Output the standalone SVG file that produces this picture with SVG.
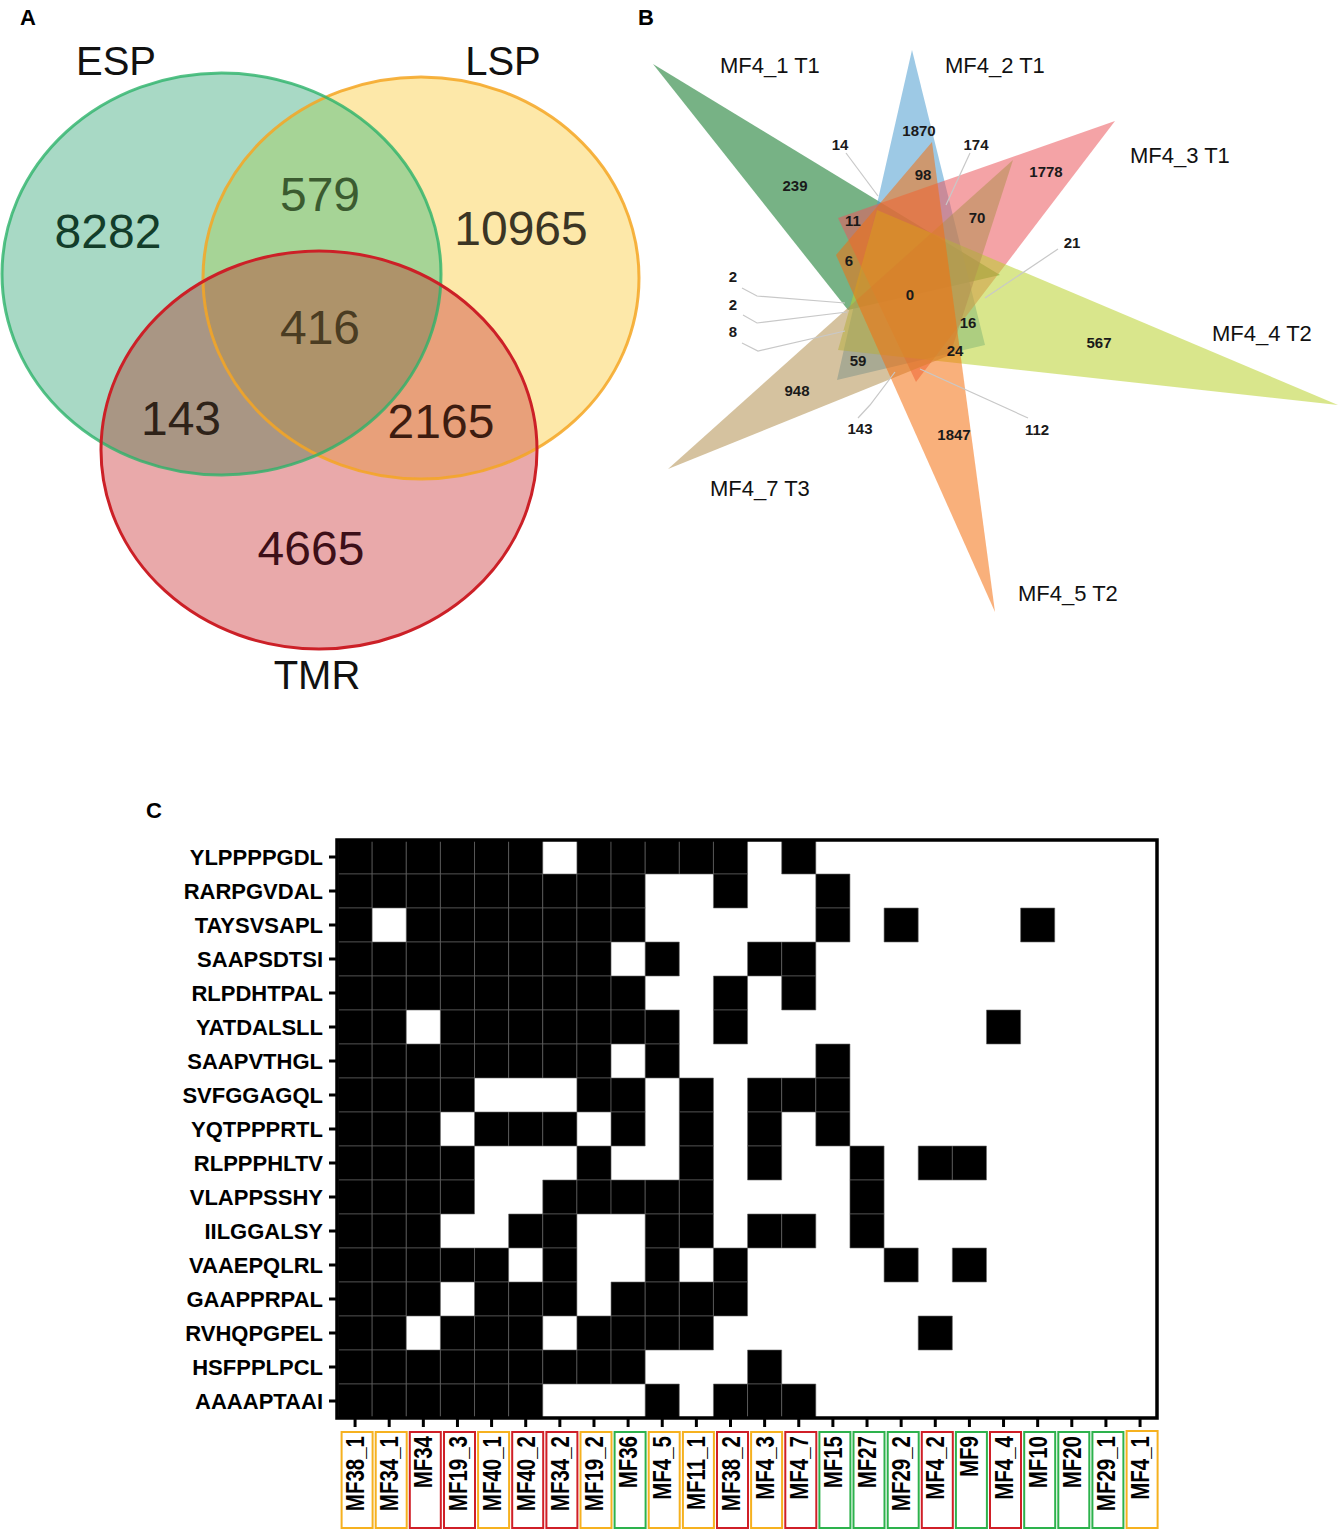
<svg xmlns="http://www.w3.org/2000/svg" width="1340" height="1530" viewBox="0 0 1340 1530">
<style>
.pl{font-family:"Liberation Sans",Arial,sans-serif;font-weight:bold;font-size:22px;fill:#000}
.vn{font-family:"Liberation Sans",Arial,sans-serif;font-size:48px;text-anchor:middle}
.vl{font-family:"Liberation Sans",Arial,sans-serif;font-size:40px;text-anchor:middle;fill:#111}
.sn{font-family:"Liberation Sans",Arial,sans-serif;font-size:15px;font-weight:bold;text-anchor:middle;fill:#1a1a1a}
.sl{font-family:"Liberation Sans",Arial,sans-serif;font-size:22px;fill:#111}
.ld{fill:none;stroke:#c8c8c8;stroke-width:1.2}
.tri{fill-opacity:0.55;stroke:none}
.cell{fill:#000;stroke:#6a6a6a;stroke-width:0.6}
.rl{font-family:"Liberation Sans",Arial,sans-serif;font-weight:bold;font-size:22px;text-anchor:end;fill:#000}
.cl{font-family:"Liberation Sans",Arial,sans-serif;font-weight:bold;font-size:20.5px;text-anchor:end;fill:#000}
.tk{stroke:#000;stroke-width:3}
.bo{fill:#fff;stroke:#f6b11f;stroke-width:2}
.br{fill:#fff;stroke:#d01f27;stroke-width:2}
.bg{fill:#fff;stroke:#2db24c;stroke-width:2}
</style>
<defs>
<clipPath id="clipESP"><ellipse cx="221.5" cy="274" rx="219.5" ry="201"/></clipPath>
<clipPath id="clipLSP"><ellipse cx="421" cy="278" rx="218" ry="201"/></clipPath>
<rect id="c" width="1" height="1" vector-effect="non-scaling-stroke"/>
</defs>
<rect width="1340" height="1530" fill="#fff"/>

<text class="pl" x="20" y="25">A</text>
<text class="pl" x="638" y="25">B</text>
<text class="pl" x="146" y="818">C</text>

<!-- Panel A -->
<g id="panelA">
<g id="fills">
<ellipse cx="221.5" cy="274" rx="219.5" ry="201" fill="#a8d9c5"/>
<ellipse cx="421" cy="278" rx="218" ry="201" fill="#fde8a9"/>
<ellipse cx="319" cy="450" rx="218" ry="199" fill="#e9a9aa"/>
<g clip-path="url(#clipESP)"><ellipse cx="421" cy="278" rx="218" ry="201" fill="#a6d496"/></g>
<g clip-path="url(#clipESP)"><ellipse cx="319" cy="450" rx="218" ry="199" fill="#a99684"/></g>
<g clip-path="url(#clipLSP)"><ellipse cx="319" cy="450" rx="218" ry="199" fill="#e8a07a"/></g>
<g clip-path="url(#clipESP)"><g clip-path="url(#clipLSP)"><ellipse cx="319" cy="450" rx="218" ry="199" fill="#ae936a"/></g></g>
</g>
<g id="set-LSP"><ellipse cx="421" cy="278" rx="218" ry="201" fill="none" stroke="#f4a623" stroke-width="3" stroke-opacity="0.85"/>
<text class="vl" x="503" y="75">LSP</text></g>
<g id="set-ESP"><ellipse cx="221.5" cy="274" rx="219.5" ry="201" fill="none" stroke="#2db36a" stroke-width="3" stroke-opacity="0.8"/>
<text class="vl" x="116" y="75">ESP</text></g>
<g id="set-TMR"><ellipse cx="319" cy="450" rx="218" ry="199" fill="none" stroke="#cc2027" stroke-width="3"/>
<text class="vl" x="317" y="689">TMR</text></g>
<g id="countsA">
<text class="vn" x="108" y="248" fill="#133d2a">8282</text>
<text class="vn" x="320" y="211" fill="#3b5b30">579</text>
<text class="vn" x="521" y="245" fill="#3b3524">10965</text>
<text class="vn" x="320" y="344" fill="#4a3c22">416</text>
<text class="vn" x="181" y="435" fill="#2e2218">143</text>
<text class="vn" x="441" y="438" fill="#3d1c10">2165</text>
<text class="vn" x="311" y="565" fill="#3d0f18">4665</text>
</g>
</g>

<!-- Panel B -->
<g id="panelB">
<g id="triangles">
<polygon id="t-MF4_1" class="tri" fill="#087320" points="653,64 848,310 1000,275"/>
<polygon id="t-MF4_2" class="tri" fill="#4d9dd0" points="912,50 837,380 985,345"/>
<polygon id="t-MF4_3" class="tri" fill="#eb585d" points="1115,121 838,218 916,382"/>
<polygon id="t-MF4_4" class="tri" fill="#bad22e" points="1338,405 877,210 838,350"/>
<polygon id="t-MF4_7" class="tri" fill="#b39051" points="668,469 1013,160 950,355"/>
<polygon id="t-MF4_5" class="tri" fill="#f46f0f" points="995,612 932,142 836,255"/>
</g>
<g id="connectors">
<polyline class="ld" points="846,153 878,196"/>
<polyline class="ld" points="970,153 946,205"/>
<polyline class="ld" points="1058,249 985,298"/>
<polyline class="ld" points="742,288 757,296 845,303"/>
<polyline class="ld" points="743,315 757,323 847,312"/>
<polyline class="ld" points="742,343 758,351 845,331"/>
<polyline class="ld" points="858,418 870,405 895,372"/>
<polyline class="ld" points="920,369 1028,418"/>
</g>
<g id="countsB">
<text class="sn" x="919" y="136">1870</text>
<text class="sn" x="840" y="150">14</text>
<text class="sn" x="976" y="150">174</text>
<text class="sn" x="795" y="191">239</text>
<text class="sn" x="923" y="180">98</text>
<text class="sn" x="1046" y="177">1778</text>
<text class="sn" x="853" y="226">11</text>
<text class="sn" x="977" y="223">70</text>
<text class="sn" x="1072" y="248">21</text>
<text class="sn" x="849" y="266">6</text>
<text class="sn" x="733" y="282">2</text>
<text class="sn" x="910" y="300" font-weight="normal" font-size="14">0</text>
<text class="sn" x="733" y="310">2</text>
<text class="sn" x="968" y="328">16</text>
<text class="sn" x="733" y="337" font-weight="normal">8</text>
<text class="sn" x="1099" y="348">567</text>
<text class="sn" x="955" y="356">24</text>
<text class="sn" x="858" y="366">59</text>
<text class="sn" x="797" y="396">948</text>
<text class="sn" x="860" y="434">143</text>
<text class="sn" x="954" y="440">1847</text>
<text class="sn" x="1037" y="435">112</text>
</g>
<g id="labelsB">
<text class="sl" x="720" y="73">MF4_1 T1</text>
<text class="sl" x="945" y="73">MF4_2 T1</text>
<text class="sl" x="1130" y="163">MF4_3 T1</text>
<text class="sl" x="1212" y="341">MF4_4 T2</text>
<text class="sl" x="1018" y="601">MF4_5 T2</text>
<text class="sl" x="710" y="496">MF4_7 T3</text>
</g>
</g>

<!-- Panel C -->
<g id="panelC">
<g id="cells" class="cell" transform="translate(338,840) scale(34.13,34)">
<!-- row 0 -->
<use href="#c" x="0" y="0"/><use href="#c" x="1" y="0"/><use href="#c" x="2" y="0"/><use href="#c" x="3" y="0"/><use href="#c" x="4" y="0"/><use href="#c" x="5" y="0"/><use href="#c" x="7" y="0"/><use href="#c" x="8" y="0"/><use href="#c" x="9" y="0"/><use href="#c" x="10" y="0"/><use href="#c" x="11" y="0"/><use href="#c" x="13" y="0"/>
<!-- row 1 -->
<use href="#c" x="0" y="1"/><use href="#c" x="1" y="1"/><use href="#c" x="2" y="1"/><use href="#c" x="3" y="1"/><use href="#c" x="4" y="1"/><use href="#c" x="5" y="1"/><use href="#c" x="6" y="1"/><use href="#c" x="7" y="1"/><use href="#c" x="8" y="1"/><use href="#c" x="11" y="1"/><use href="#c" x="14" y="1"/>
<!-- row 2 -->
<use href="#c" x="0" y="2"/><use href="#c" x="2" y="2"/><use href="#c" x="3" y="2"/><use href="#c" x="4" y="2"/><use href="#c" x="5" y="2"/><use href="#c" x="6" y="2"/><use href="#c" x="7" y="2"/><use href="#c" x="8" y="2"/><use href="#c" x="14" y="2"/><use href="#c" x="16" y="2"/><use href="#c" x="20" y="2"/>
<!-- row 3 -->
<use href="#c" x="0" y="3"/><use href="#c" x="1" y="3"/><use href="#c" x="2" y="3"/><use href="#c" x="3" y="3"/><use href="#c" x="4" y="3"/><use href="#c" x="5" y="3"/><use href="#c" x="6" y="3"/><use href="#c" x="7" y="3"/><use href="#c" x="9" y="3"/><use href="#c" x="12" y="3"/><use href="#c" x="13" y="3"/>
<!-- row 4 -->
<use href="#c" x="0" y="4"/><use href="#c" x="1" y="4"/><use href="#c" x="2" y="4"/><use href="#c" x="3" y="4"/><use href="#c" x="4" y="4"/><use href="#c" x="5" y="4"/><use href="#c" x="6" y="4"/><use href="#c" x="7" y="4"/><use href="#c" x="8" y="4"/><use href="#c" x="11" y="4"/><use href="#c" x="13" y="4"/>
<!-- row 5 -->
<use href="#c" x="0" y="5"/><use href="#c" x="1" y="5"/><use href="#c" x="3" y="5"/><use href="#c" x="4" y="5"/><use href="#c" x="5" y="5"/><use href="#c" x="6" y="5"/><use href="#c" x="7" y="5"/><use href="#c" x="8" y="5"/><use href="#c" x="9" y="5"/><use href="#c" x="11" y="5"/><use href="#c" x="19" y="5"/>
<!-- row 6 -->
<use href="#c" x="0" y="6"/><use href="#c" x="1" y="6"/><use href="#c" x="2" y="6"/><use href="#c" x="3" y="6"/><use href="#c" x="4" y="6"/><use href="#c" x="5" y="6"/><use href="#c" x="6" y="6"/><use href="#c" x="7" y="6"/><use href="#c" x="9" y="6"/><use href="#c" x="14" y="6"/>
<!-- row 7 -->
<use href="#c" x="0" y="7"/><use href="#c" x="1" y="7"/><use href="#c" x="2" y="7"/><use href="#c" x="3" y="7"/><use href="#c" x="7" y="7"/><use href="#c" x="8" y="7"/><use href="#c" x="10" y="7"/><use href="#c" x="12" y="7"/><use href="#c" x="13" y="7"/><use href="#c" x="14" y="7"/>
<!-- row 8 -->
<use href="#c" x="0" y="8"/><use href="#c" x="1" y="8"/><use href="#c" x="2" y="8"/><use href="#c" x="4" y="8"/><use href="#c" x="5" y="8"/><use href="#c" x="6" y="8"/><use href="#c" x="8" y="8"/><use href="#c" x="10" y="8"/><use href="#c" x="12" y="8"/><use href="#c" x="14" y="8"/>
<!-- row 9 -->
<use href="#c" x="0" y="9"/><use href="#c" x="1" y="9"/><use href="#c" x="2" y="9"/><use href="#c" x="3" y="9"/><use href="#c" x="7" y="9"/><use href="#c" x="10" y="9"/><use href="#c" x="12" y="9"/><use href="#c" x="15" y="9"/><use href="#c" x="17" y="9"/><use href="#c" x="18" y="9"/>
<!-- row 10 -->
<use href="#c" x="0" y="10"/><use href="#c" x="1" y="10"/><use href="#c" x="2" y="10"/><use href="#c" x="3" y="10"/><use href="#c" x="6" y="10"/><use href="#c" x="7" y="10"/><use href="#c" x="8" y="10"/><use href="#c" x="9" y="10"/><use href="#c" x="10" y="10"/><use href="#c" x="15" y="10"/>
<!-- row 11 -->
<use href="#c" x="0" y="11"/><use href="#c" x="1" y="11"/><use href="#c" x="2" y="11"/><use href="#c" x="5" y="11"/><use href="#c" x="6" y="11"/><use href="#c" x="9" y="11"/><use href="#c" x="10" y="11"/><use href="#c" x="12" y="11"/><use href="#c" x="13" y="11"/><use href="#c" x="15" y="11"/>
<!-- row 12 -->
<use href="#c" x="0" y="12"/><use href="#c" x="1" y="12"/><use href="#c" x="2" y="12"/><use href="#c" x="3" y="12"/><use href="#c" x="4" y="12"/><use href="#c" x="6" y="12"/><use href="#c" x="9" y="12"/><use href="#c" x="11" y="12"/><use href="#c" x="16" y="12"/><use href="#c" x="18" y="12"/>
<!-- row 13 -->
<use href="#c" x="0" y="13"/><use href="#c" x="1" y="13"/><use href="#c" x="2" y="13"/><use href="#c" x="4" y="13"/><use href="#c" x="5" y="13"/><use href="#c" x="6" y="13"/><use href="#c" x="8" y="13"/><use href="#c" x="9" y="13"/><use href="#c" x="10" y="13"/><use href="#c" x="11" y="13"/>
<!-- row 14 -->
<use href="#c" x="0" y="14"/><use href="#c" x="1" y="14"/><use href="#c" x="3" y="14"/><use href="#c" x="4" y="14"/><use href="#c" x="5" y="14"/><use href="#c" x="7" y="14"/><use href="#c" x="8" y="14"/><use href="#c" x="9" y="14"/><use href="#c" x="10" y="14"/><use href="#c" x="17" y="14"/>
<!-- row 15 -->
<use href="#c" x="0" y="15"/><use href="#c" x="1" y="15"/><use href="#c" x="2" y="15"/><use href="#c" x="3" y="15"/><use href="#c" x="4" y="15"/><use href="#c" x="5" y="15"/><use href="#c" x="6" y="15"/><use href="#c" x="7" y="15"/><use href="#c" x="8" y="15"/><use href="#c" x="12" y="15"/>
<!-- row 16 -->
<use href="#c" x="0" y="16"/><use href="#c" x="1" y="16"/><use href="#c" x="2" y="16"/><use href="#c" x="3" y="16"/><use href="#c" x="4" y="16"/><use href="#c" x="5" y="16"/><use href="#c" x="9" y="16"/><use href="#c" x="11" y="16"/><use href="#c" x="12" y="16"/><use href="#c" x="13" y="16"/>
</g>
<rect id="frame" x="337" y="840" width="820" height="578" fill="none" stroke="#000" stroke-width="3.5"/>
<g id="rowTicks" class="tk">
<line x1="329" y1="857" x2="337" y2="857"/><line x1="329" y1="891" x2="337" y2="891"/><line x1="329" y1="925" x2="337" y2="925"/><line x1="329" y1="959" x2="337" y2="959"/><line x1="329" y1="993" x2="337" y2="993"/><line x1="329" y1="1027" x2="337" y2="1027"/><line x1="329" y1="1061" x2="337" y2="1061"/><line x1="329" y1="1095" x2="337" y2="1095"/><line x1="329" y1="1129" x2="337" y2="1129"/><line x1="329" y1="1163" x2="337" y2="1163"/><line x1="329" y1="1197" x2="337" y2="1197"/><line x1="329" y1="1231" x2="337" y2="1231"/><line x1="329" y1="1265" x2="337" y2="1265"/><line x1="329" y1="1299" x2="337" y2="1299"/><line x1="329" y1="1333" x2="337" y2="1333"/><line x1="329" y1="1367" x2="337" y2="1367"/><line x1="329" y1="1401" x2="337" y2="1401"/>
</g>
<g id="rowLabels">
<text class="rl" x="323" y="865">YLPPPPGDL</text>
<text class="rl" x="323" y="899">RARPGVDAL</text>
<text class="rl" x="323" y="933">TAYSVSAPL</text>
<text class="rl" x="323" y="967">SAAPSDTSI</text>
<text class="rl" x="323" y="1001">RLPDHTPAL</text>
<text class="rl" x="323" y="1035">YATDALSLL</text>
<text class="rl" x="323" y="1069">SAAPVTHGL</text>
<text class="rl" x="323" y="1103">SVFGGAGQL</text>
<text class="rl" x="323" y="1137">YQTPPPRTL</text>
<text class="rl" x="323" y="1171">RLPPPHLTV</text>
<text class="rl" x="323" y="1205">VLAPPSSHY</text>
<text class="rl" x="323" y="1239">IILGGALSY</text>
<text class="rl" x="323" y="1273">VAAEPQLRL</text>
<text class="rl" x="323" y="1307">GAAPPRPAL</text>
<text class="rl" x="323" y="1341">RVHQPGPEL</text>
<text class="rl" x="323" y="1375">HSFPPLPCL</text>
<text class="rl" x="323" y="1409">AAAAPTAAI</text>
</g>
<g id="colTicks" class="tk">
<line x1="355.07" y1="1418" x2="355.07" y2="1427"/><line x1="389.2" y1="1418" x2="389.2" y2="1427"/><line x1="423.33" y1="1418" x2="423.33" y2="1427"/><line x1="457.46" y1="1418" x2="457.46" y2="1427"/><line x1="491.59" y1="1418" x2="491.59" y2="1427"/><line x1="525.72" y1="1418" x2="525.72" y2="1427"/><line x1="559.85" y1="1418" x2="559.85" y2="1427"/><line x1="593.98" y1="1418" x2="593.98" y2="1427"/><line x1="628.11" y1="1418" x2="628.11" y2="1427"/><line x1="662.24" y1="1418" x2="662.24" y2="1427"/><line x1="696.37" y1="1418" x2="696.37" y2="1427"/><line x1="730.5" y1="1418" x2="730.5" y2="1427"/><line x1="764.63" y1="1418" x2="764.63" y2="1427"/><line x1="798.76" y1="1418" x2="798.76" y2="1427"/><line x1="832.89" y1="1418" x2="832.89" y2="1427"/><line x1="867.02" y1="1418" x2="867.02" y2="1427"/><line x1="901.15" y1="1418" x2="901.15" y2="1427"/><line x1="935.28" y1="1418" x2="935.28" y2="1427"/><line x1="969.41" y1="1418" x2="969.41" y2="1427"/><line x1="1003.54" y1="1418" x2="1003.54" y2="1427"/><line x1="1037.67" y1="1418" x2="1037.67" y2="1427"/><line x1="1071.8" y1="1418" x2="1071.8" y2="1427"/><line x1="1105.93" y1="1418" x2="1105.93" y2="1427"/><line x1="1140.06" y1="1418" x2="1140.06" y2="1427"/>
</g>
<g id="colLabels">
<g id="col-MF38_1"><rect class="bo" x="341.6" y="1432" width="31" height="96"/><text class="cl" transform="translate(364,1436) rotate(-90) scale(1,1.25)">MF38_1</text></g>
<g id="col-MF34_1"><rect class="bo" x="375.7" y="1432" width="31" height="96"/><text class="cl" transform="translate(398.2,1436) rotate(-90) scale(1,1.25)">MF34_1</text></g>
<g id="col-MF34"><rect class="br" x="409.8" y="1432" width="31" height="96"/><text class="cl" transform="translate(432.3,1436) rotate(-90) scale(1,1.25)">MF34</text></g>
<g id="col-MF19_3"><rect class="br" x="444" y="1432" width="31" height="96"/><text class="cl" transform="translate(466.5,1436) rotate(-90) scale(1,1.25)">MF19_3</text></g>
<g id="col-MF40_1"><rect class="bo" x="478.1" y="1432" width="31" height="96"/><text class="cl" transform="translate(500.6,1436) rotate(-90) scale(1,1.25)">MF40_1</text></g>
<g id="col-MF40_2"><rect class="br" x="512.2" y="1432" width="31" height="96"/><text class="cl" transform="translate(534.7,1436) rotate(-90) scale(1,1.25)">MF40_2</text></g>
<g id="col-MF34_2"><rect class="br" x="546.4" y="1432" width="31" height="96"/><text class="cl" transform="translate(568.9,1436) rotate(-90) scale(1,1.25)">MF34_2</text></g>
<g id="col-MF19_2"><rect class="bo" x="580.5" y="1432" width="31" height="96"/><text class="cl" transform="translate(603,1436) rotate(-90) scale(1,1.25)">MF19_2</text></g>
<g id="col-MF36"><rect class="bg" x="614.6" y="1432" width="31" height="96"/><text class="cl" transform="translate(637.1,1436) rotate(-90) scale(1,1.25)">MF36</text></g>
<g id="col-MF4_5"><rect class="bo" x="648.7" y="1432" width="31" height="96"/><text class="cl" transform="translate(671.2,1436) rotate(-90) scale(1,1.25)">MF4_5</text></g>
<g id="col-MF11_1"><rect class="bo" x="682.9" y="1432" width="31" height="96"/><text class="cl" transform="translate(705.4,1436) rotate(-90) scale(1,1.25)">MF11_1</text></g>
<g id="col-MF38_2"><rect class="br" x="717" y="1432" width="31" height="96"/><text class="cl" transform="translate(739.5,1436) rotate(-90) scale(1,1.25)">MF38_2</text></g>
<g id="col-MF4_3"><rect class="bo" x="751.1" y="1432" width="31" height="96"/><text class="cl" transform="translate(773.6,1436) rotate(-90) scale(1,1.25)">MF4_3</text></g>
<g id="col-MF4_7"><rect class="br" x="785.3" y="1432" width="31" height="96"/><text class="cl" transform="translate(807.8,1436) rotate(-90) scale(1,1.25)">MF4_7</text></g>
<g id="col-MF15"><rect class="bg" x="819.4" y="1432" width="31" height="96"/><text class="cl" transform="translate(841.9,1436) rotate(-90) scale(1,1.25)">MF15</text></g>
<g id="col-MF27"><rect class="bg" x="853.5" y="1432" width="31" height="96"/><text class="cl" transform="translate(876,1436) rotate(-90) scale(1,1.25)">MF27</text></g>
<g id="col-MF29_2"><rect class="bg" x="887.7" y="1432" width="31" height="96"/><text class="cl" transform="translate(910.2,1436) rotate(-90) scale(1,1.25)">MF29_2</text></g>
<g id="col-MF4_2"><rect class="br" x="921.8" y="1432" width="31" height="96"/><text class="cl" transform="translate(944.3,1436) rotate(-90) scale(1,1.25)">MF4_2</text></g>
<g id="col-MF9"><rect class="bg" x="955.9" y="1432" width="31" height="96"/><text class="cl" transform="translate(978.4,1436) rotate(-90) scale(1,1.25)">MF9</text></g>
<g id="col-MF4_4"><rect class="br" x="990" y="1432" width="31" height="96"/><text class="cl" transform="translate(1012.5,1436) rotate(-90) scale(1,1.25)">MF4_4</text></g>
<g id="col-MF10"><rect class="bg" x="1024.2" y="1432" width="31" height="96"/><text class="cl" transform="translate(1046.7,1436) rotate(-90) scale(1,1.25)">MF10</text></g>
<g id="col-MF20"><rect class="bg" x="1058.3" y="1432" width="31" height="96"/><text class="cl" transform="translate(1080.8,1436) rotate(-90) scale(1,1.25)">MF20</text></g>
<g id="col-MF29_1"><rect class="bg" x="1092.4" y="1432" width="31" height="96"/><text class="cl" transform="translate(1114.9,1436) rotate(-90) scale(1,1.25)">MF29_1</text></g>
<g id="col-MF4_1"><rect class="bo" x="1126.6" y="1431" width="31" height="97"/><text class="cl" transform="translate(1149.1,1436) rotate(-90) scale(1,1.25)">MF4_1</text></g>
</g>
</g>
</svg>
